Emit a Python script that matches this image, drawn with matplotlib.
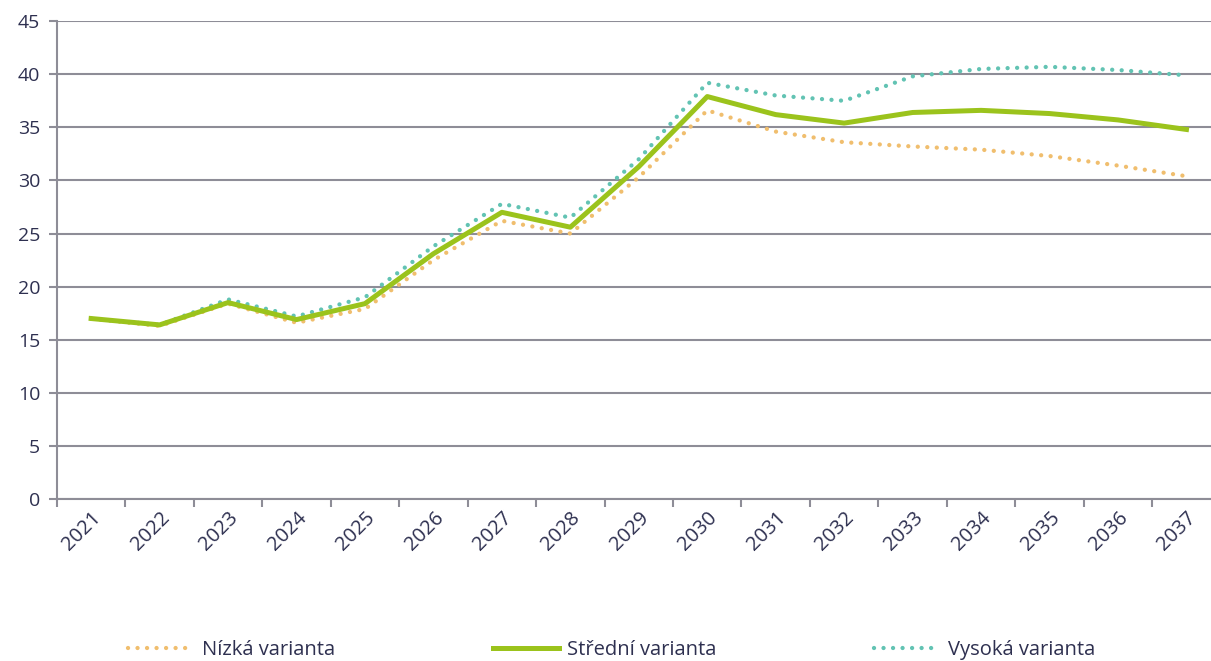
import matplotlib.pyplot as plt
import numpy as np

# data
roky = ['2021', '2022', '2023', '2024', '2025', '2026', '2027', '2028', '2029',
        '2030', '2031', '2032', '2033', '2034', '2035', '2036', '2037']
nizka = [17.0, 16.3, 18.4, 16.6, 17.9, 22.5, 26.2, 25.0, 30.3,
         36.6, 34.6, 33.6, 33.2, 32.9, 32.3, 31.4, 30.4]
stredni = [17.0, 16.4, 18.5, 16.9, 18.4, 23.1, 27.0, 25.6, 31.3,
           37.9, 36.2, 35.4, 36.4, 36.6, 36.3, 35.7, 34.8]
vysoka = [17.0, 16.4, 18.8, 17.2, 19.0, 23.8, 27.8, 26.5, 32.0,
          39.2, 38.0, 37.5, 39.8, 40.5, 40.7, 40.4, 39.9]

plt.rcParams['font.family'] = ['Open Sans', 'DejaVu Sans']
barva_textu = '#2e3050'
barva_mrizky = '#8e8d97'

fig = plt.figure(figsize=(12.11, 6.61), dpi=100)
# the plot area runs a little past the right edge, as in the original
ax = fig.add_axes([0.047, 0.245, 0.961, 0.723])

x = np.arange(len(roky))
tecky = (0, (0.01, 2.2))
ax.plot(x, nizka, color='#f0be6e', lw=3.1, linestyle=tecky,
        dash_capstyle='round', label='Nízká varianta', zorder=3)
ax.plot(x, stredni, color='#9bc31c', lw=3.6, label='Střední varianta',
        solid_joinstyle='round', zorder=4)
ax.plot(x, vysoka, color='#62c3b3', lw=3.1, linestyle=tecky,
        dash_capstyle='round', label='Vysoká varianta', zorder=3)

ax.set_xlim(-0.5, len(roky) - 0.5)
ax.set_ylim(0, 45)
ax.set_yticks(np.arange(0, 46, 5))
ax.yaxis.grid(True, color=barva_mrizky, lw=1.5)
ax.set_axisbelow(True)

ax.set_xticks(x)
ax.set_xticklabels(roky, rotation=45, ha='right', rotation_mode='anchor')
ax.set_xticks(np.arange(-0.5, len(roky)), minor=True)
ax.tick_params(axis='x', which='major', length=0, pad=6,
               labelsize=14.5, labelcolor=barva_textu)
ax.tick_params(axis='x', which='minor', length=6, width=1.5, color=barva_mrizky)
ax.tick_params(axis='y', length=6, width=1.5, color=barva_mrizky,
               labelsize=14, labelcolor=barva_textu, pad=6)

for s in ['top', 'right']:
    ax.spines[s].set_visible(False)
for s in ['left', 'bottom']:
    ax.spines[s].set_color(barva_mrizky)
    ax.spines[s].set_linewidth(1.5)

fig.legend(loc='center', bbox_to_anchor=(0.505, 0.017), ncol=3, frameon=False,
           fontsize=14.5, labelcolor=barva_textu, handlelength=3.3,
           handletextpad=0.4, columnspacing=7.8)

fig.savefig('out.png', dpi=100)
